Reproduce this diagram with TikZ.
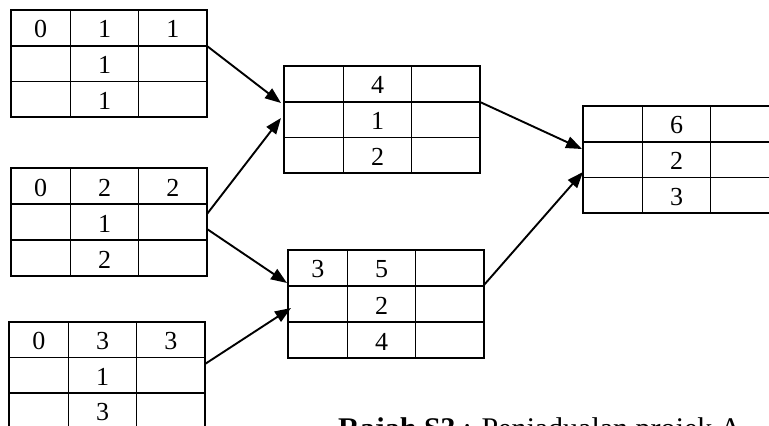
\documentclass[tikz,border=0pt]{standalone}
\usepackage{fontspec}
\setmainfont{Liberation Serif}
\usetikzlibrary{arrows.meta,calc}
\newcommand\tabl[9]{%
  \node[tablebox, minimum width=196pt, minimum height={3*#4*1pt}, anchor=north west] (#1) at (#2,#3) {};
  \draw[gridline] (#2+59.5,#3) -- (#2+59.5,#3+3*#4);
  \draw[gridline] (#2+127.5,#3) -- (#2+127.5,#3+3*#4);
  \draw[gridline] (#2,#3+#4) -- (#2+196,#3+#4);
  \draw[gridline] (#2,#3+2*#4) -- (#2+196,#3+2*#4);
  \node[cell] (#1-11) at (#2+29.75,#3+0.5*#4+1.5) {#5};
  \node[cell] (#1-12) at (#2+93.5,#3+0.5*#4+1.5) {#6};
  \node[cell] (#1-13) at (#2+161.75,#3+0.5*#4+1.5) {#7};
  \node[cell] (#1-22) at (#2+93.5,#3+1.5*#4+1.5) {#8};
  \node[cell] (#1-32) at (#2+93.5,#3+2.5*#4+1.5) {#9};
}
\begin{document}
\begin{tikzpicture}[x=1pt,y=-1pt,
  tablebox/.style={draw, line width=1.7pt, inner sep=0pt, outer sep=0pt},
  gridline/.style={line width=1.7pt},
  cell/.style={inner sep=0pt, font=\fontsize{26}{30}\selectfont},
  arr/.style={line width=1.9pt, -{Triangle[length=16pt,width=12pt]}}]
\useasboundingbox (0,0) rectangle (769,426);
\clip (0,0) rectangle (769,426);
\tabl{t1}{11}{10}{35.7}{0}{1}{1}{1}{1}
\tabl{t2}{11}{168}{36}{0}{2}{2}{1}{2}
\tabl{t3}{9}{322}{35.5}{0}{3}{3}{1}{3}
\tabl{t4}{284}{66}{35.7}{}{4}{}{1}{2}
\tabl{t5}{288}{250}{36}{3}{5}{}{2}{4}
\tabl{t6}{583}{106}{35.7}{}{6}{}{2}{3}
\draw[arr] ($(t1.north east)+(0,36)$) -- ($(t4.north west)+(-3,37)$);
\draw[arr] ($(t2.north east)+(0,46)$) -- ($(t4.north west)+(-3,52)$);
\draw[arr] ($(t2.north east)+(0,61)$) -- ($(t5.north west)+(-1,33)$);
\draw[arr] ($(t3.north east)+(0,42)$) -- ($(t5.north west)+(3,58)$);
\draw[arr] ($(t4.north east)+(0,36)$) -- ($(t6.north west)+(-1,43)$);
\draw[arr] ($(t5.north east)+(0,35)$) -- ($(t6.north west)+(0,66)$);
\node[anchor=base west, inner sep=0pt, font=\fontsize{30}{34}\selectfont] (cap) at (338,438) {\textbf{Rajah S3} : Penjadualan projek A};
\end{tikzpicture}
\end{document}
